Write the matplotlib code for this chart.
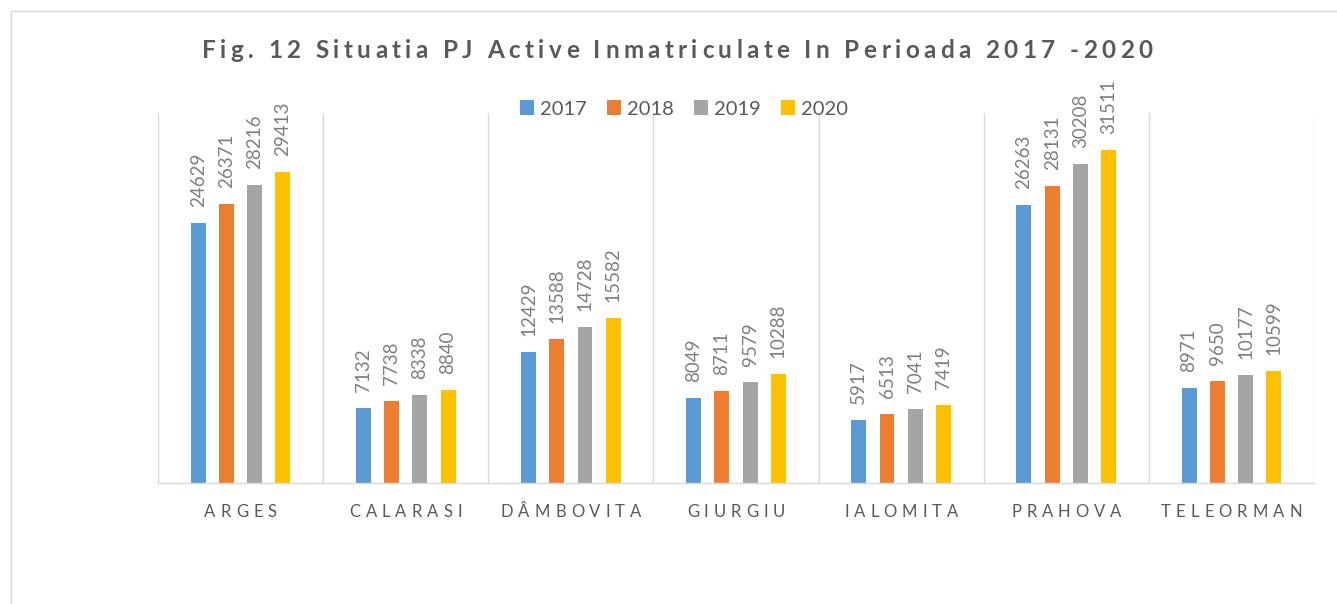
import numpy as np
import matplotlib
matplotlib.use("Agg")
import matplotlib.pyplot as plt
from matplotlib.font_manager import FontProperties, findfont, get_font
from matplotlib.lines import Line2D

plt.rcParams["font.family"] = ["Lato", "DejaVu Sans"]

# data
counties = ["ARGES", "CALARASI", "DÂMBOVITA", "GIURGIU", "IALOMITA", "PRAHOVA", "TELEORMAN"]
years = ["2017", "2018", "2019", "2020"]
v2017 = [24629, 7132, 12429, 8049, 5917, 26263, 8971]
v2018 = [26371, 7738, 13588, 8711, 6513, 28131, 9650]
v2019 = [28216, 8338, 14728, 9579, 7041, 30208, 10177]
v2020 = [29413, 8840, 15582, 10288, 7419, 31511, 10599]
colors = ["#5B9BD5", "#ED7D31", "#A5A5A5", "#FFC000"]

title = "Fig. 12 Situatia PJ Active Inmatriculate In Perioada 2017 -2020"

W, H = 1337, 604
fig = plt.figure(figsize=(W / 100, H / 100), dpi=100)
ax = fig.add_axes([158 / W, 1 - 483 / H, (1314 - 158) / W, (483 - 113) / H])


def spaced_text(fig, cx, base_y, s, size, track, color, weight="normal"):
    # Excel style letter spacing: one glyph per text, cx/base_y in display pixels
    prop = FontProperties(family="Lato", weight=weight, size=size)
    font = get_font(findfont(prop))
    font.set_size(size, fig.dpi)
    adv = []
    for ch in s:
        g = font.load_char(ord(ch))
        adv.append(g.linearHoriAdvance / 65536)
    total = sum(adv) + track * (len(s) - 1)
    x = cx - total / 2
    for ch, a in zip(s, adv):
        fig.text(x / W, base_y / H, ch, ha="left", va="baseline",
                 fontproperties=prop, color=color)
        x += a + track


x = np.arange(len(counties))
width = 0.09
step = 0.171
series = [v2017, v2018, v2019, v2020]
bars = []
for i, (vals, col) in enumerate(zip(series, colors)):
    pos = x + (i - 1.5) * step
    b = ax.bar(pos, vals, width, color=col, zorder=2, label=years[i])
    bars.append(b)
    for px, v in zip(pos, vals):
        ax.annotate(str(v), (px, v), xytext=(0, 11.5), textcoords="offset points",
                    rotation=90, ha="center", va="bottom", fontsize=13.5,
                    color="#7F7F7F")

ax.set_xlim(-0.5, len(counties) - 0.5)
ax.set_ylim(0, 35000)
ax.set_xticks(np.arange(-0.5, len(counties), 1), minor=True)
ax.set_xticks(x)
ax.set_xticklabels([])
ax.tick_params(axis="x", which="both", length=0)
ax.set_yticks([])
ax.grid(axis="x", which="minor", color="#D9D9D9", lw=1.0)
ax.set_axisbelow(True)
for side in ["top", "left", "right"]:
    ax.spines[side].set_visible(False)
ax.spines["bottom"].set_color("#D9D9D9")
ax.spines["bottom"].set_linewidth(1.0)

# category labels with letter spacing
for i, name in enumerate(counties):
    cx = ax.transData.transform((i, 0))[0]
    spaced_text(fig, cx, H - 517, name, 12, 5, "#595959")

# title
spaced_text(fig, 677, H - 58, title, 17.5, 4.4, "#595959", weight="bold")

fig.legend(handles=bars, labels=years, loc="center",
           bbox_to_anchor=(684 / W, 1 - 109 / H), ncol=4, frameon=False,
           fontsize=14.5, handlelength=0.7, handleheight=0.7,
           handletextpad=0.3, columnspacing=1.0, labelcolor="#595959",
           borderaxespad=0, borderpad=0)

# outer chart border (cut off on right and bottom)
fig.add_artist(Line2D([11 / W, 11 / W], [0, 1 - 11 / H], color="#D9D9D9", lw=1.0))
fig.add_artist(Line2D([11 / W, 1], [1 - 11 / H, 1 - 11 / H], color="#D9D9D9", lw=1.0))

fig.savefig("out.png", dpi=100)
